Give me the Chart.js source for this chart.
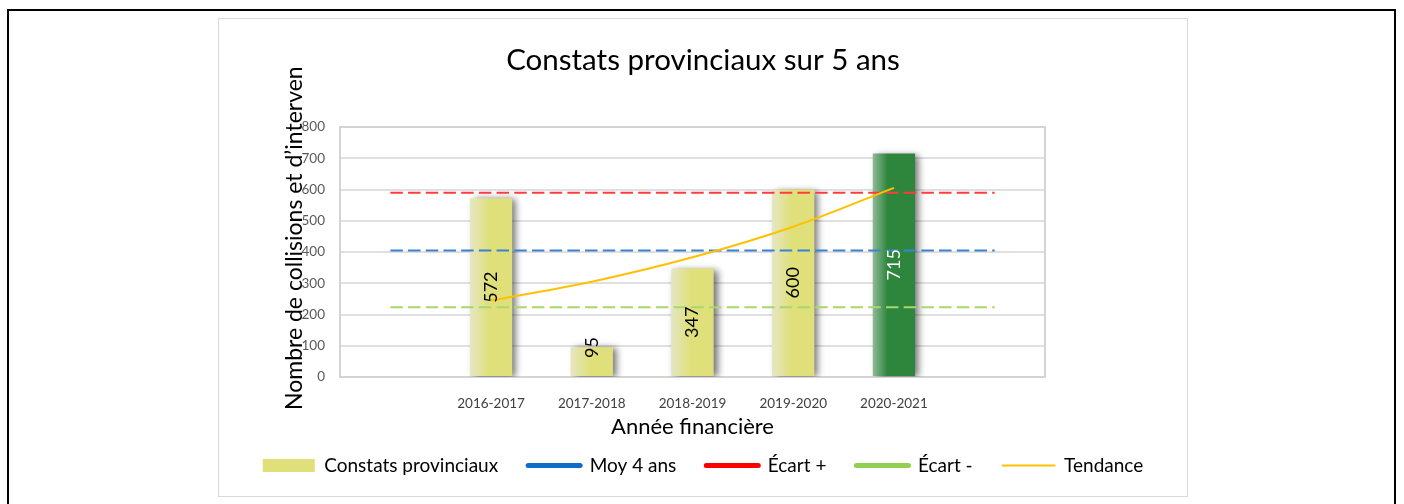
<!DOCTYPE html>
<html>
<head>
<meta charset="utf-8">
<script src="https://cdn.jsdelivr.net/npm/chart.js@4.4.1/dist/chart.umd.min.js"></script>
<style>
body { margin: 0; background: #fff; width: 1404px; height: 504px; overflow: hidden; position: relative; }
#cadre { position: absolute; left: 7px; top: 9px; width: 1385px; height: 600px; border: 2px solid #000; border-bottom: none; }
#boite { position: absolute; left: 218px; top: 18px; width: 970px; height: 479px; border: 1px solid #d9d9d9; box-sizing: border-box; }
#graph { display: block; }
</style>
</head>
<body>
<div id="cadre"></div>
<div id="boite"><canvas id="graph" width="968" height="477"></canvas></div>
<script>
// categories (vides aux extremites pour les lignes de reference)
var annees = ['', '2016-2017', '2017-2018', '2018-2019', '2019-2020', '2020-2021', ''];
var constats = [null, 572, 95, 347, 600, 715, null];
var moyenne = [405, 405, 405, 405, 405, 405, 405];
var ecartPlus = [590, 590, 590, 590, 590, 590, 590];
var ecartMoins = [223, 223, 223, 223, 223, 223, 223];
var tendance = [null, 245, 305, 383, 481, 605, null];
var ticksY = [0, 100, 200, 300, 400, 500, 600, 700, 800];

var police = 'Lato';
var jaune = '#dfe07a';
var vert = '#2e863c';

function degradeBarre(c) {
    var chart = c.chart;
    var xs = chart.scales.x;
    var base = c.dataIndex === 5 ? vert : jaune;
    if (!xs || c.type !== 'data') return base;
    var cx = xs.getPixelForValue(c.dataIndex);
    var w = xs.width / annees.length * 0.42;
    if (!isFinite(cx) || !isFinite(w) || w <= 0) return base;
    var g = chart.ctx.createLinearGradient(cx - w / 2, 0, cx + w / 2, 0);
    if (c.dataIndex === 5) {
        g.addColorStop(0, '#8fb996');
        g.addColorStop(0.35, vert);
        g.addColorStop(1, vert);
    } else {
        g.addColorStop(0, '#e6e6c4');
        g.addColorStop(0.45, jaune);
        g.addColorStop(1, jaune);
    }
    return g;
}

var cadreZone = {
    id: 'cadreZone',
    beforeDatasetsDraw: function (chart) {
        var a = chart.chartArea, ctx = chart.ctx;
        ctx.save();
        ctx.strokeStyle = '#d4d4d4';
        ctx.lineWidth = 2;
        ctx.strokeRect(a.left, a.top, a.right - a.left, a.bottom - a.top);
        ctx.restore();
    },
    beforeDatasetDraw: function (chart, args) {
        if (args.index !== 0) return;
        var ctx = chart.ctx;
        ctx.save();
        ctx.shadowColor = 'rgba(0,0,0,0.55)';
        ctx.shadowBlur = 7;
        ctx.shadowOffsetX = 4;
        ctx.shadowOffsetY = 1;
    },
    afterDatasetDraw: function (chart, args) {
        if (args.index !== 0) return;
        chart.ctx.restore();
    },
    afterDatasetsDraw: function (chart) {
        var ctx = chart.ctx;
        var meta = chart.getDatasetMeta(0);
        ctx.save();
        ctx.font = '18px ' + police;
        ctx.textAlign = 'center';
        ctx.textBaseline = 'middle';
        meta.data.forEach(function (bar, i) {
            if (constats[i] == null) return;
            var txt = String(constats[i]);
            var tw = ctx.measureText(txt).width;
            var y = Math.min((bar.y + bar.base) / 2, bar.base - tw / 2 - 18);
            ctx.save();
            ctx.translate(bar.x, y);
            ctx.rotate(-Math.PI / 2);
            ctx.fillStyle = i === 5 ? '#ffffff' : '#000000';
            ctx.fillText(txt, 0, 0);
            ctx.restore();
        });
        ctx.restore();
    },
    afterDraw: function (chart) {
        var a = chart.chartArea, ctx = chart.ctx;
        ctx.save();
        ctx.translate(a.left - 38, a.bottom + 33);
        ctx.rotate(-Math.PI / 2);
        ctx.font = '23px ' + police;
        ctx.fillStyle = '#000';
        ctx.textAlign = 'left';
        ctx.textBaseline = 'alphabetic';
        ctx.fillText('Nombre de collisions et d\u2019interven', 0, 0);
        ctx.restore();
    }
};

var ctx = document.getElementById('graph').getContext('2d');
var graph = new Chart(ctx, {
    type: 'bar',
    data: {
        labels: annees,
        datasets: [{
            type: 'bar',
            label: 'Constats provinciaux',
            data: constats,
            backgroundColor: degradeBarre,
            borderWidth: 0,
            barPercentage: 0.42,
            categoryPercentage: 1,
            order: 10
        }, {
            type: 'line',
            label: 'Moy 4 ans',
            data: moyenne,
            borderColor: '#3d82d2',
            borderWidth: 2,
            borderDash: [12.5, 5.2],
            pointRadius: 0,
            order: 1
        }, {
            type: 'line',
            label: '\u00c9cart +',
            data: ecartPlus,
            borderColor: '#ff3c3c',
            borderWidth: 2,
            borderDash: [12.5, 5.2],
            pointRadius: 0,
            order: 1
        }, {
            type: 'line',
            label: '\u00c9cart -',
            data: ecartMoins,
            borderColor: '#a6d86e',
            borderWidth: 2,
            borderDash: [12.5, 5.2],
            pointRadius: 0,
            order: 1
        }, {
            type: 'line',
            label: 'Tendance',
            data: tendance,
            borderColor: '#ffc000',
            borderWidth: 2,
            pointRadius: 0,
            cubicInterpolationMode: 'monotone',
            order: 0
        }]
    },
    options: {
        responsive: false,
        animation: false,
        layout: { padding: { left: 0, right: 0, top: 0, bottom: 11 } },
        plugins: {
            title: {
                display: true,
                text: 'Constats provinciaux sur 5 ans',
                color: '#000',
                font: { family: police, size: 29.5, weight: 'normal' },
                padding: { top: 23.3, bottom: 49.3 }
            },
            legend: {
                position: 'bottom',
                labels: {
                    usePointStyle: true,
                    pointStyleWidth: 52,
                    boxHeight: 13,
                    padding: 30,
                    color: '#404040',
                    font: { family: police, size: 19 },
                    generateLabels: function (chart) {
                        var couleurs = [jaune, '#0f6fc6', '#ff0000', '#92d050', '#ffc000'];
                        return chart.data.datasets.map(function (ds, i) {
                            if (i === 0) {
                                return { text: ds.label, fillStyle: jaune, strokeStyle: jaune, lineWidth: 0, pointStyle: 'rect', datasetIndex: i };
                            }
                            return {
                                text: ds.label, fillStyle: couleurs[i], strokeStyle: couleurs[i],
                                lineWidth: i === 4 ? 2 : 5, lineCap: 'round', pointStyle: 'line', datasetIndex: i
                            };
                        });
                    }
                }
            },
            tooltip: { enabled: false }
        },
        scales: {
            x: {
                grid: { display: false },
                border: { display: false },
                ticks: { color: '#404040', font: { family: police, size: 13.5 }, padding: 11, maxRotation: 0, autoSkip: false },
                title: { display: true, text: 'Ann\u00e9e financi\u00e8re', color: '#000', font: { family: police, size: 22 }, padding: { top: 0, bottom: -14.2 } },
                afterFit: function (s) { s.height = 49; }
            },
            y: {
                min: 0,
                max: 800,
                afterBuildTicks: function (s) { s.ticks = ticksY.map(function (v) { return { value: v }; }); },
                grid: { color: '#e0e0e0', lineWidth: 2, drawTicks: false },
                border: { display: false },
                ticks: { color: '#595959', font: { family: police, size: 13.5 }, padding: 15 },
                afterFit: function (s) { s.width = 121; }
            },
            y2: {
                position: 'right',
                min: 0,
                max: 800,
                grid: { display: false },
                border: { display: false },
                ticks: { display: false },
                afterFit: function (s) { s.width = 142; }
            }
        }
    },
    plugins: [cadreZone]
});
</script>
</body>
</html>
